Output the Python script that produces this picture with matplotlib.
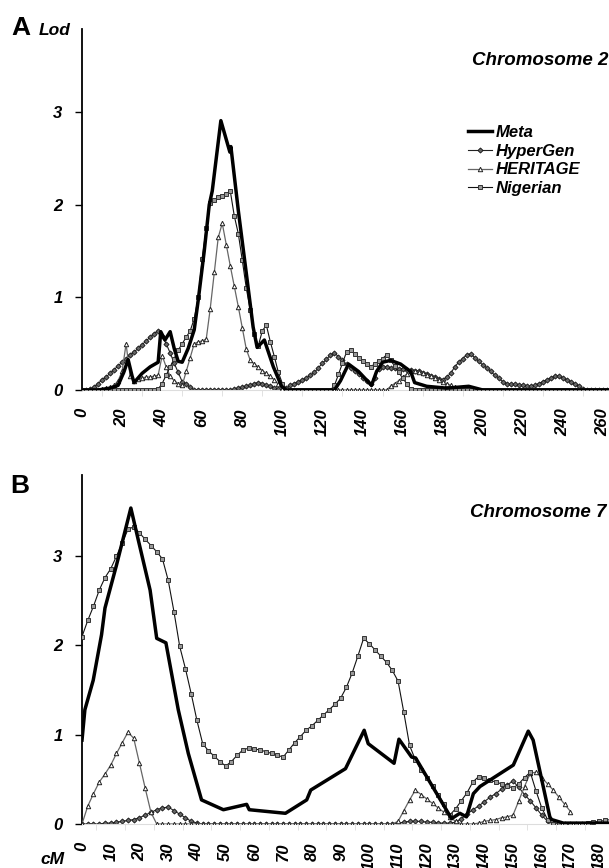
import numpy as np
import matplotlib
matplotlib.use("Agg")
import matplotlib.pyplot as plt

plt.rcParams['font.family'] = ['Liberation Sans', 'DejaVu Sans']
plt.rcParams['font.weight'] = 'bold'
plt.rcParams['font.style'] = 'italic'

# ---------------- Chromosome 2 (panel A), grid step 2 cM for marker series
a_hypergen = [0, 0, 0.01, 0.03, 0.07, 0.11, 0.14, 0.18, 0.22, 0.26,
              0.30, 0.34, 0.38, 0.41, 0.45, 0.49, 0.53, 0.57, 0.61, 0.64,
              0.58, 0.50, 0.40, 0.29, 0.19, 0.09, 0.06, 0.03, 0, 0,
              0, 0, 0, 0, 0, 0, 0, 0, 0.01, 0.02,
              0.03, 0.04, 0.05, 0.07, 0.08, 0.07, 0.05, 0.04, 0.02, 0.01,
              0, 0.02, 0.05, 0.07, 0.09, 0.11, 0.13, 0.16, 0.19, 0.24,
              0.29, 0.33, 0.38, 0.40, 0.36, 0.32, 0.28, 0.24, 0.21, 0.17,
              0.13, 0.10, 0.06, 0.13, 0.23, 0.25, 0.25, 0.24, 0.24, 0.23,
              0.23, 0.22, 0.22, 0.21, 0.20, 0.18, 0.17, 0.15, 0.14, 0.12,
              0.11, 0.14, 0.18, 0.25, 0.30, 0.34, 0.38, 0.39, 0.35, 0.31,
              0.27, 0.24, 0.20, 0.16, 0.13, 0.09, 0.07, 0.06, 0.06, 0.05,
              0.05, 0.04, 0.04, 0.05, 0.07, 0.09, 0.11, 0.13, 0.15, 0.15,
              0.13, 0.11, 0.09, 0.06, 0.04, 0.01, 0, 0, 0, 0,
              0, 0]
a_heritage = [0, 0, 0, 0, 0, 0.01, 0.02, 0.03, 0.05, 0.1,
              0.2, 0.5, 0.15, 0.1, 0.12, 0.13, 0.14, 0.14, 0.15, 0.16,
              0.37, 0.25, 0.15, 0.1, 0.07, 0.05, 0.2, 0.35, 0.5, 0.52,
              0.53, 0.55, 0.88, 1.27, 1.65, 1.8, 1.57, 1.34, 1.12, 0.9,
              0.67, 0.44, 0.32, 0.28, 0.25, 0.21, 0.18, 0.15, 0.11, 0.06,
              0.01, 0, 0, 0, 0, 0, 0, 0, 0, 0,
              0, 0, 0, 0, 0, 0, 0, 0, 0, 0,
              0, 0, 0, 0, 0, 0, 0, 0.04, 0.07, 0.1,
              0.14, 0.17, 0.2, 0.2, 0.19, 0.18, 0.16, 0.15, 0.13, 0.11,
              0.09, 0.07, 0.05, 0.03, 0.02, 0.01, 0, 0, 0, 0] + [0] * 32
a_nigerian = [0, 0, 0, 0, 0, 0, 0, 0, 0, 0,
              0, 0, 0, 0, 0, 0, 0, 0, 0, 0.01,
              0.07, 0.16, 0.25, 0.34, 0.43, 0.5, 0.57, 0.64, 0.77, 1.0,
              1.42, 1.75, 2.02, 2.05, 2.08, 2.1, 2.12, 2.15, 1.88, 1.69,
              1.4, 1.1, 0.86, 0.6, 0.48, 0.64, 0.7, 0.52, 0.36, 0.19,
              0.07, 0.01, 0, 0, 0, 0, 0, 0, 0, 0,
              0, 0, 0, 0.05, 0.17, 0.29, 0.41, 0.43, 0.39, 0.35,
              0.31, 0.28, 0.25, 0.28, 0.31, 0.34, 0.38, 0.32, 0.26, 0.19,
              0.13, 0.07, 0.01, 0, 0, 0, 0, 0, 0, 0] + [0] * 42
a_meta_cm = [0, 8, 14, 18, 21, 23, 25, 26, 30, 34, 38, 39.3, 41.4, 44, 46, 48, 50,
             53, 56, 58, 61, 63.5, 65, 69.3, 73, 73.8, 74.3, 78, 82, 85.4, 87.4,
             91, 95.5, 99.6, 102, 126, 129, 133, 138, 144.5, 147, 150, 154, 159,
             164, 166, 172, 182, 193, 200, 263]
a_meta = [0, 0, 0.02, 0.05, 0.2, 0.33, 0.15, 0.08, 0.18, 0.25, 0.3, 0.63, 0.54,
          0.63, 0.45, 0.31, 0.3, 0.45, 0.65, 0.97, 1.5, 2.0, 2.15, 2.91, 2.63,
          2.57, 2.63, 1.94, 1.26, 0.68, 0.46, 0.54, 0.25, 0.04, 0, 0, 0.1, 0.28,
          0.2, 0.05, 0.2, 0.3, 0.32, 0.28, 0.2, 0.08, 0.04, 0.02, 0.04, 0, 0]

# ---------------- Chromosome 7 (panel B)
b_hypergen = [0, 0, 0, 0, 0.01, 0.01, 0.02, 0.03, 0.04, 0.05,
              0.07, 0.1, 0.13, 0.16, 0.18, 0.19, 0.15, 0.11, 0.07, 0.03,
              0.01, 0, 0, 0, 0, 0, 0, 0, 0, 0] + [0] * 20 + \
             [0, 0, 0, 0, 0, 0.01, 0.02, 0.03, 0.03, 0.03,
              0.02, 0.02, 0.01, 0.01, 0.01, 0.02, 0.06, 0.11, 0.16, 0.2,
              0.25, 0.3, 0.34, 0.39, 0.44, 0.48, 0.41, 0.33, 0.26, 0.18,
              0.1, 0.03, 0, 0, 0, 0, 0, 0, 0, 0,
              0, 0, 0]
b_heritage = [0, 0.2, 0.34, 0.47, 0.56, 0.66, 0.79, 0.91, 1.03, 0.96,
              0.68, 0.4, 0.13, 0, 0, 0, 0, 0, 0, 0] + [0] * 30 + \
             [0, 0, 0, 0, 0, 0.03, 0.15, 0.27, 0.38, 0.33,
              0.28, 0.23, 0.18, 0.13, 0.08, 0.03, 0, 0, 0, 0.01,
              0.03, 0.04, 0.05, 0.07, 0.08, 0.1, 0.26, 0.42, 0.57, 0.58,
              0.52, 0.45, 0.38, 0.3, 0.22, 0.14]
b_nigerian = [2.1, 2.28, 2.44, 2.62, 2.76, 2.86, 3.0, 3.15, 3.3, 3.33,
              3.26, 3.19, 3.12, 3.05, 2.97, 2.73, 2.38, 1.99, 1.74, 1.46,
              1.16, 0.9, 0.82, 0.76, 0.7, 0.65, 0.7, 0.77, 0.83, 0.85,
              0.84, 0.83, 0.81, 0.79, 0.77, 0.75, 0.83, 0.91, 0.98, 1.05,
              1.1, 1.16, 1.22, 1.28, 1.34, 1.41, 1.53, 1.69, 1.88, 2.08,
              2.02, 1.95, 1.88, 1.81, 1.72, 1.6, 1.25, 0.88, 0.72, 0.6,
              0.52, 0.43, 0.33, 0.22, 0.1, 0.17, 0.26, 0.35, 0.47, 0.53,
              0.51, 0.49, 0.47, 0.45, 0.43, 0.4, 0.45, 0.52, 0.58, 0.37,
              0.18, 0.05, 0, 0, 0, 0, 0, 0, 0.01, 0.02,
              0.03, 0.04, 0.05]
b_meta_cm = [0, 1, 3.9, 6.8, 8, 12, 17, 19.6, 23.7, 26, 29.2, 33.5, 37, 41.6, 49.2,
             57.3, 58.2, 70.8, 78.2, 79.6, 91.7, 98.2, 99.6, 108.6, 110.3, 114.7,
             116.1, 128.6, 131.5, 133.8, 136.2, 138.5, 150.1, 155.3, 157, 162.8,
             163.4, 167.5, 184]
b_meta = [0.94, 1.28, 1.61, 2.12, 2.42, 2.9, 3.54, 3.18, 2.62, 2.08, 2.03, 1.28,
          0.79, 0.27, 0.16, 0.22, 0.16, 0.12, 0.27, 0.38, 0.62, 1.05, 0.9, 0.68,
          0.95, 0.75, 0.74, 0.06, 0.12, 0.08, 0.34, 0.42, 0.66, 1.04, 0.94, 0.08,
          0.05, 0.01, 0.01]

labels = ['Meta', 'HyperGen', 'HERITAGE', 'Nigerian']


def draw(ax, meta_cm, meta, hyp, her, nig):
    ax.plot(np.arange(len(hyp)) * 2, hyp, color='#222222', lw=0.8, marker='D',
            ms=2.6, mfc='#666666', mec='#111111', mew=0.6, label=labels[1], zorder=2)
    ax.plot(np.arange(len(her)) * 2, her, color='#666666', lw=0.9, marker='^',
            ms=3.2, mfc='white', mec='#222222', mew=0.7, label=labels[2], zorder=3)
    ax.plot(np.arange(len(nig)) * 2, nig, color='#111111', lw=0.8, marker='s',
            ms=3.4, mfc='#999999', mec='#333333', mew=0.7, label=labels[3], zorder=4)
    ax.plot(meta_cm, meta, color='black', lw=2.5, label=labels[0], zorder=5)
    for s in ['top', 'right']:
        ax.spines[s].set_visible(False)
    ax.spines['left'].set_linewidth(1.3)
    ax.spines['bottom'].set_color('#dddddd')
    ax.set_yticks([0, 1, 2, 3])
    ax.tick_params(axis='y', length=5, width=1, pad=9, labelsize=12)
    ax.tick_params(axis='x', which='major', length=0, pad=13, labelsize=12)
    ax.tick_params(axis='x', which='minor', length=4, color='#dddddd')


fig = plt.figure(figsize=(6.09, 8.68), dpi=100)
W, H = 609, 868

axA = fig.add_axes([82 / W, 1 - 390 / H, 1 - 82 / W, (390 - 29) / H])
draw(axA, a_meta_cm, a_meta, a_hypergen, a_heritage, a_nigerian)
axA.set_xlim(0, 263)
axA.set_ylim(0, 3.9)
axA.set_xticks(range(0, 261, 20))
axA.set_xticklabels([str(v) for v in range(0, 261, 20)], rotation=90, va='top')
axA.set_xticks(range(0, 261, 10), minor=True)

axB = fig.add_axes([82 / W, 1 - 824 / H, 1 - 82 / W, (824 - 475) / H])
draw(axB, b_meta_cm, b_meta, b_hypergen, b_heritage, b_nigerian)
axB.set_xlim(0, 183.4)
axB.set_ylim(0, 3.91)
axB.set_xticks(range(0, 181, 10))
axB.set_xticklabels([str(v) for v in range(0, 181, 10)], rotation=90, va='top')
axB.set_xticks(range(0, 184, 5), minor=True)

handles, labs = axA.get_legend_handles_labels()
order = [labs.index(l) for l in labels]
fig.legend([handles[i] for i in order], labels, loc='upper left',
           bbox_to_anchor=(468 / W, 1 - 125 / H), bbox_transform=fig.transFigure,
           frameon=False, fontsize=12, handlelength=1.45, handletextpad=0.2,
           labelspacing=0.22, borderpad=0, borderaxespad=0, numpoints=1)

fig.text(11 / W, 1 - 35 / H, 'A', fontsize=19, fontstyle='normal', va='baseline')
fig.text(39 / W, 1 - 35 / H, 'Lod', fontsize=12.5, va='baseline')
fig.text(10 / W, 1 - 493 / H, 'B', fontsize=19, fontstyle='normal', va='baseline')
fig.text(472 / W, 1 - 65 / H, 'Chromosome 2', fontsize=13.5, va='baseline')
fig.text(470 / W, 1 - 517 / H, 'Chromosome 7', fontsize=13.5, va='baseline')
fig.text(40 / W, 1 - 864 / H, 'cM', fontsize=12.5, va='baseline')

fig.savefig('out.png', dpi=100)
